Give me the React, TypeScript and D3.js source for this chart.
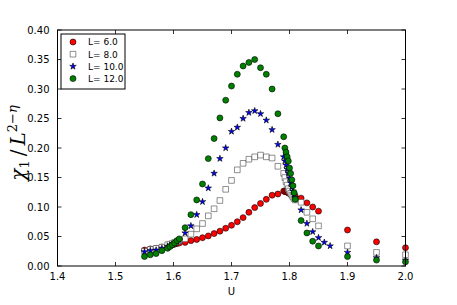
import React, { useEffect, useRef } from 'react';
import * as d3 from 'd3';

// U grid (denser sampling around 1.60 and 1.80)
const uValues = [
  1.55, 1.56, 1.57, 1.58, 1.59,
  1.594, 1.598, 1.602, 1.606, 1.61,
  1.62, 1.63, 1.64, 1.65, 1.66, 1.67, 1.68, 1.69, 1.70, 1.71, 1.72, 1.73, 1.74, 1.75, 1.76, 1.77, 1.78,
  1.79, 1.792, 1.794, 1.796, 1.798, 1.80, 1.802, 1.804, 1.806, 1.808, 1.81,
  1.82, 1.83, 1.84, 1.85, 1.86, 1.87,
  1.90, 1.95, 2.00,
];

const l6 = [
  0.027, 0.029, 0.030, 0.032, 0.034,
  0.035, 0.036, 0.037, 0.038, 0.039,
  0.040, 0.043, 0.045, 0.048, 0.051, 0.055, 0.059, 0.064, 0.069, 0.075, 0.082, 0.091, 0.099, 0.106, 0.113, 0.120, 0.122,
  0.127, 0.126, 0.126, 0.125, 0.124, 0.123, 0.122, 0.121, 0.120, 0.119, 0.118,
  0.115, 0.107, 0.100, 0.093, null, null,
  0.061, 0.041, 0.031,
];

const l8 = [
  0.025, 0.028, 0.030, 0.032, 0.036,
  0.037, 0.038, 0.040, 0.041, 0.043,
  0.046, 0.054, 0.063, 0.072, 0.085, 0.097, 0.111, 0.130, 0.145, 0.163, 0.174, 0.181, 0.185, 0.188, 0.185, 0.183, 0.169,
  0.157, 0.150, 0.143, 0.137, 0.131, 0.127, 0.123, 0.120, 0.117, 0.114, 0.112,
  0.108, 0.091, 0.080, 0.068, null, null,
  0.034, 0.023, 0.019,
];

const l10 = [
  0.024, 0.026, 0.027, 0.030, 0.033,
  0.035, 0.037, 0.039, 0.041, 0.044,
  0.056, 0.068, 0.087, 0.109, 0.132, 0.157, 0.182, 0.200, 0.228, 0.235, 0.250, 0.260, 0.263, 0.258, 0.247, 0.231, 0.206,
  0.185, 0.178, 0.171, 0.164, 0.157, 0.149, 0.141, 0.134, 0.127, 0.121, 0.116,
  0.095, 0.072, 0.058, 0.048, 0.040, 0.034,
  0.023, 0.014, 0.010,
];

const l12 = [
  0.016, 0.019, 0.021, 0.026, 0.030,
  0.033, 0.036, 0.039, 0.043, 0.046,
  0.065, 0.087, 0.112, 0.139, 0.182, 0.216, 0.251, 0.281, 0.305, 0.325, 0.339, 0.345, 0.350, 0.336, 0.325, 0.300, 0.258,
  0.219, 0.200, 0.193, 0.185, 0.178, 0.166, 0.157, 0.146, 0.136, 0.124, 0.113,
  0.077, 0.056, 0.042, 0.034, null, null,
  0.016, 0.010, 0.007,
];

const seriesNames = ['L= 6.0', 'L= 8.0', 'L= 10.0', 'L= 12.0'];
const xTicks = [1.4, 1.5, 1.6, 1.7, 1.8, 1.9, 2.0];
const yTicks = [0.0, 0.05, 0.1, 0.15, 0.2, 0.25, 0.3, 0.35, 0.4];

const width = 457;
const height = 305;
const margin = { left: 57.5, right: 51.5, top: 30, bottom: 39 };
const tickFont = 'DejaVu Sans, sans-serif';

export default function App() {
  const ref = useRef<SVGSVGElement>(null);

  useEffect(() => {
    const svg = d3.select(ref.current);
    svg.selectAll('*').remove();

    const x = d3.scaleLinear().domain([1.4, 2.0]).range([margin.left, width - margin.right]);
    const y = d3.scaleLinear().domain([0, 0.4]).range([height - margin.bottom, margin.top]);

    const x0 = x.range()[0], x1 = x.range()[1];
    const y0 = y.range()[0], y1 = y.range()[1];

    // marks
    const styles = [
      { shape: d3.symbolCircle, size: 28, fill: '#ff0000' },
      { shape: d3.symbolSquare, size: 32, fill: '#ffffff' },
      { shape: d3.symbolStar, size: 13, fill: '#0000ff' },
      { shape: d3.symbolCircle, size: 28, fill: '#008000' },
    ];
    const allSeries = [l6, l8, l10, l12];

    const plot = svg.append('g');
    allSeries.forEach((vals, s) => {
      const st = styles[s];
      const sym = d3.symbol().type(st.shape).size(st.size);
      const pts = uValues.map((u, i) => ({ u, v: vals[i] })).filter(d => d.v !== null);
      plot.append('g')
        .selectAll('path')
        .data(pts)
        .enter()
          .append('path')
          .attr('d', sym)
          .attr('transform', d => `translate(${x(d.u)},${y(d.v as number)})`)
          .attr('fill', st.fill)
          .attr('stroke', s === 1 ? '#444' : '#000')
          .attr('stroke-width', 0.6);
    });

    // frame
    svg.append('rect')
      .attr('x', x0).attr('y', y1)
      .attr('width', x1 - x0).attr('height', y0 - y1)
      .attr('fill', 'none').attr('stroke', '#000').attr('stroke-width', 1);

    // ticks (inside, on all four sides)
    const tk = svg.append('g').attr('stroke', '#000').attr('stroke-width', 0.8);
    xTicks.forEach(t => {
      tk.append('line').attr('x1', x(t)).attr('x2', x(t)).attr('y1', y0).attr('y2', y0 - 4);
      tk.append('line').attr('x1', x(t)).attr('x2', x(t)).attr('y1', y1).attr('y2', y1 + 4);
    });
    yTicks.forEach(t => {
      tk.append('line').attr('x1', x0).attr('x2', x0 + 4).attr('y1', y(t)).attr('y2', y(t));
      tk.append('line').attr('x1', x1).attr('x2', x1 - 4).attr('y1', y(t)).attr('y2', y(t));
    });

    svg.append('g').selectAll('text')
      .data(xTicks).enter()
        .append('text')
        .attr('x', d => x(d)).attr('y', y0 + 14)
        .attr('text-anchor', 'middle')
        .attr('font-family', tickFont).attr('font-size', 10)
        .text(d => d.toFixed(1));

    svg.append('g').selectAll('text')
      .data(yTicks).enter()
        .append('text')
        .attr('x', x0 - 8).attr('y', d => y(d) + 3.5)
        .attr('text-anchor', 'end')
        .attr('font-family', tickFont).attr('font-size', 10)
        .text(d => d.toFixed(2));

    svg.append('text')
      .attr('x', (x0 + x1) / 2).attr('y', y0 + 29)
      .attr('text-anchor', 'middle')
      .attr('font-family', tickFont).attr('font-size', 10)
      .text('U');

    // y label: chi_1 / L^{2-eta}
    const yl = svg.append('text')
      .attr('transform', `translate(25,${(y0 + y1) / 2 - 5}) rotate(-90)`)
      .attr('text-anchor', 'middle')
      .attr('font-family', 'DejaVu Serif, serif')
      .attr('font-size', 20);
    yl.append('tspan').attr('font-style', 'italic').text('χ');
    yl.append('tspan').attr('font-size', 13).attr('dy', 4).text('1');
    yl.append('tspan').attr('dy', -4).text('\u2009/\u2009');
    yl.append('tspan').attr('font-style', 'italic').text('L');
    yl.append('tspan').attr('font-size', 13).attr('dy', -8).text('2−');
    yl.append('tspan').attr('font-size', 13).attr('font-style', 'italic').text('η');

    // legend
    const lg = svg.append('g');
    lg.append('rect')
      .attr('x', 61).attr('y', 34).attr('width', 64).attr('height', 55)
      .attr('fill', '#fff').attr('stroke', '#000').attr('stroke-width', 1);
    seriesNames.forEach((name, i) => {
      const st = styles[i];
      const cy = 42 + i * 12.2;
      lg.append('path')
        .attr('d', d3.symbol().type(st.shape).size(st.size)())
        .attr('transform', `translate(73,${cy})`)
        .attr('fill', st.fill)
        .attr('stroke', i === 1 ? '#444' : '#000')
        .attr('stroke-width', 0.6);
      lg.append('text')
        .attr('x', 88).attr('y', cy + 3.3)
        .attr('font-family', tickFont).attr('font-size', 9)
        .text(name);
    });
  }, []);

  return (
    <svg ref={ref} width={width} height={height}
      style={{ position: 'fixed', left: 0, top: 0, background: '#fff' }} />
  );
}
